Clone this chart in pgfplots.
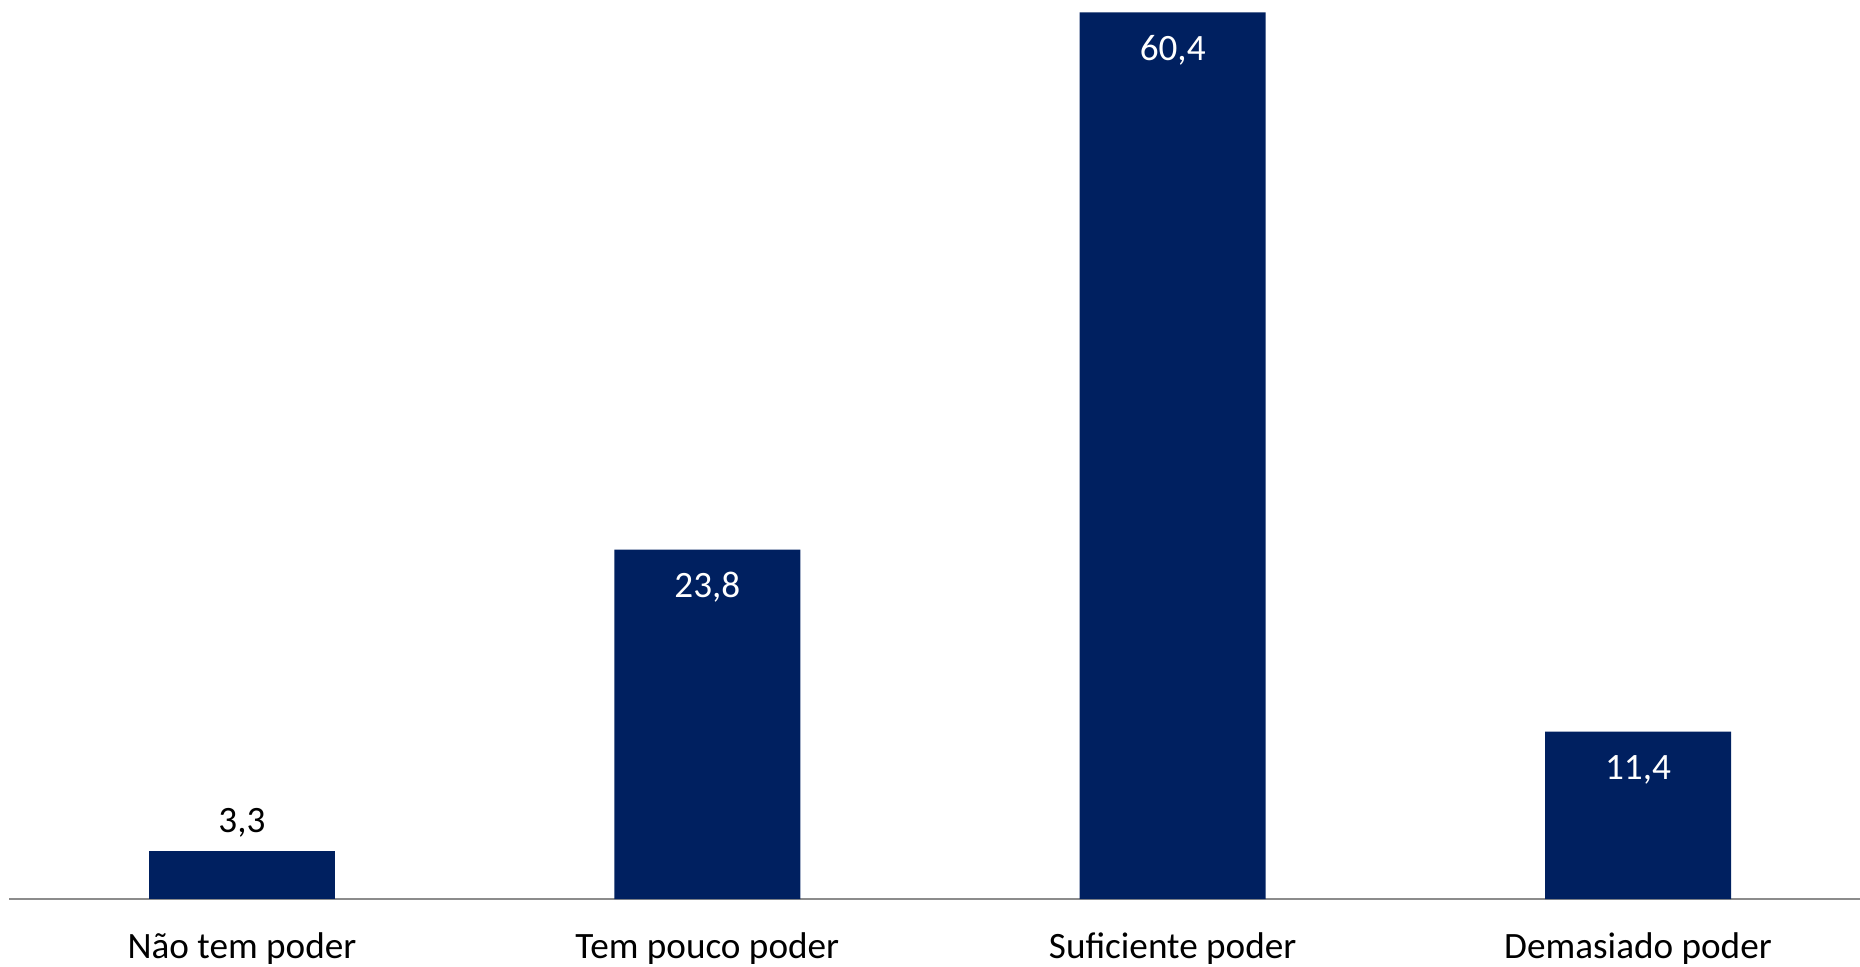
\documentclass[border=0pt]{standalone}
\usepackage{fontspec}
\setmainfont{Carlito}
\usepackage{pgfplots}
\pgfplotsset{compat=1.18}
\definecolor{barblue}{HTML}{002060}
\definecolor{axisgray}{HTML}{8C8C8C}
\begin{document}
\begin{tikzpicture}
\begin{axis}[
  at={(4.65pt,33.5pt)}, anchor=south west,
  scale only axis, width=925.35pt, height=449.5pt,
  xmin=-0.5, xmax=3.477, ymin=0, ymax=61.24,
  axis x line=bottom, axis y line=none,
  x axis line style={draw=axisgray, line width=1pt, -},
  xtick={0,1,2,3},
  xticklabels={Não tem poder, Tem pouco poder, Suficiente poder, Demasiado poder},
  major tick length=0pt,
  xticklabel style={font=\fontsize{18.6}{22}\selectfont, anchor=base, yshift=-29.5pt, text=black},
  ybar, bar width=93pt,
  nodes near coords, point meta=explicit symbolic,
  clip=false,
]
\addplot[fill=barblue, draw=none, bar shift=0pt,
  nodes near coords style={anchor=center, yshift=14pt, font=\fontsize{18.6}{22}\selectfont, text=black}]
  table[meta=lbl] {
x y lbl
0 3.3 3,3
};
\addplot[fill=barblue, draw=none, bar shift=0pt,
  nodes near coords style={anchor=center, yshift=-19pt, font=\fontsize{18.6}{22}\selectfont, text=white}]
  table[meta=lbl] {
x y lbl
1 23.8 23,8
2 60.4 60,4
3 11.4 11,4
};
\end{axis}
\pgfresetboundingbox
\path (0,0) rectangle (930pt,483pt);
\end{tikzpicture}
\end{document}
